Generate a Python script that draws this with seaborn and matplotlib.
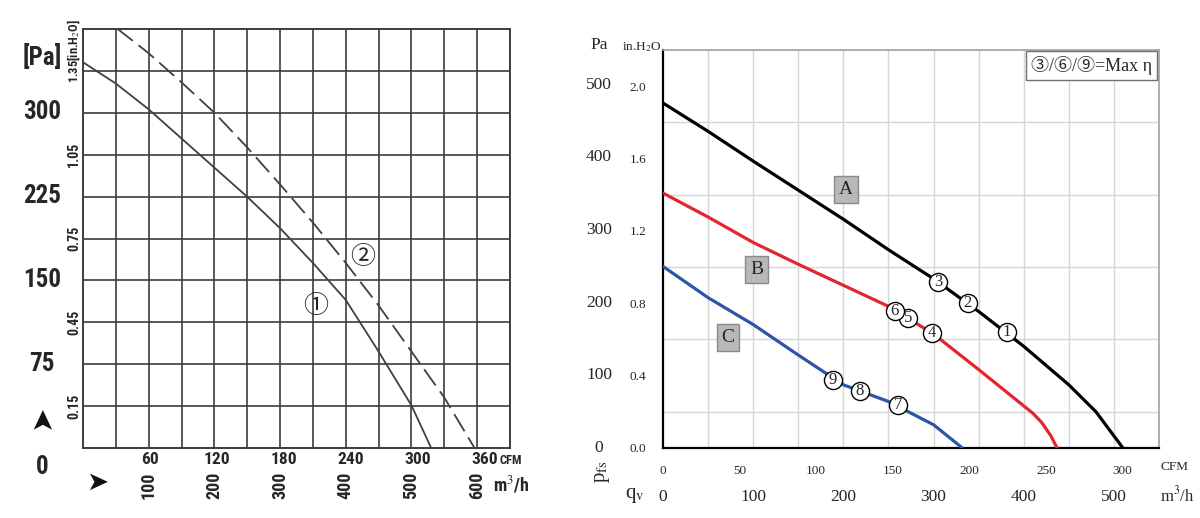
import numpy as np
import pandas as pd
import matplotlib
matplotlib.use('Agg')
import matplotlib.pyplot as plt
import matplotlib.transforms as mtrans
import seaborn as sns

PA_PER_INH2O = 249.09
CFM_PER_M3H = 0.5886

# ---- left chart: flow in m3/h, pressure in Pa ----
left_q1 = [0, 50, 100, 150, 200, 250, 300, 350, 400, 450, 500, 530]
left_p1 = [344, 325, 302, 276, 250, 224, 196, 165, 132, 86, 38, 0]
left_q2 = [52, 100, 150, 200, 250, 300, 350, 400, 450, 500, 550, 596]
left_p2 = [374, 352, 326, 299, 268, 235, 201, 165, 127, 86, 45, 0]
left_pa_ticks = [75, 150, 225, 300]
left_inh2o_ticks = [0.15, 0.45, 0.75, 1.05]
left_cfm_ticks = [60, 120, 180, 240, 300, 360]
left_m3h_ticks = [100, 200, 300, 400, 500, 600]
left_curve_tags = ['①', '②']
left_tag_q = [354, 425]
left_tag_p = [126, 170]

# ---- right chart: flow in m3/h, pressure in Pa ----
curve_a_q = [0, 50, 100, 150, 200, 250, 300, 350, 400, 450, 480, 510]
curve_a_p = [475, 436, 395, 355, 315, 273, 233, 188, 140, 87, 50, 0]
curve_b_q = [0, 50, 100, 150, 200, 250, 300, 350, 400, 410, 420, 430, 437]
curve_b_p = [351, 318, 283, 253, 224, 195, 157, 108, 58, 48, 35, 17, 0]
curve_c_q = [0, 50, 100, 150, 200, 250, 300, 332]
curve_c_p = [250, 207, 170, 128, 87, 64, 32, 0]
point_labels = ['1', '2', '3', '4', '5', '6', '7', '8', '9']
point_q = [381, 338, 305, 298, 272, 257, 260.6, 218, 188.5]
point_p = [160, 200, 229, 159, 179, 188, 59, 79, 94]
curve_names = ['A', 'B', 'C']
name_q = [203, 104, 72]
name_p = [356, 246, 152]
right_inh2o_ticks = [0.0, 0.4, 0.8, 1.2, 1.6, 2.0]
right_pa_ticks = [0, 100, 200, 300, 400, 500]
right_cfm_ticks = [0, 50, 100, 150, 200, 250, 300]
right_m3h_ticks = [0, 100, 200, 300, 400, 500]

sns.set_style('white')
plt.rcParams['font.family'] = ['DejaVu Sans', 'Noto Sans CJK JP']
plt.rcParams['mathtext.fontset'] = 'stix'

NARROW = ['Roboto Condensed', 'Roboto', 'DejaVu Sans']
SERIF = ['Liberation Serif', 'DejaVu Serif', 'Noto Sans CJK JP']
GRID_DARK = '#3c3c3c'

fig = plt.figure(figsize=(12, 5.18), dpi=100)
ax1 = fig.add_axes([83 / 1200, 70 / 518, 427 / 1200, 419 / 518])
ax2 = fig.add_axes([663 / 1200, 70 / 518, 496 / 1200, 398 / 518])

# ================= left panel =================
df1 = pd.DataFrame({'q': left_q1, 'p': left_p1})
df2 = pd.DataFrame({'q': left_q2, 'p': left_p2})
sns.lineplot(data=df1, x='q', y='p', ax=ax1, color='#404040', lw=1.3, sort=False)
sns.lineplot(data=df2, x='q', y='p', ax=ax1, color='#404040', lw=1.3, sort=False,
             dashes=False, linestyle=(0, (11, 4)))
ax1.set_xlim(0, 650)
ax1.set_ylim(0, 1.5 * PA_PER_INH2O)
ax1.set_xlabel('')
ax1.set_ylabel('')
ax1.set_xticks([c / CFM_PER_M3H for c in left_cfm_ticks])
ax1.set_xticklabels([str(c) for c in left_cfm_ticks], family=NARROW,
                    fontweight='bold', fontsize=12.5)
ax1.set_xticks(np.arange(50, 650, 50), minor=True)
ax1.set_yticks([])
ax1.set_yticks(np.arange(1, 10) * 0.15 * PA_PER_INH2O, minor=True)
ax1.tick_params(axis='x', which='major', direction='in', length=5, width=1,
                color=GRID_DARK, pad=3)
ax1.tick_params(which='minor', length=0)
ax1.grid(which='minor', color=GRID_DARK, lw=1.2)
for s in ax1.spines.values():
    s.set_color(GRID_DARK)
    s.set_linewidth(1.4)

trans_l = mtrans.blended_transform_factory(ax1.transAxes, ax1.transData)
for v in left_pa_ticks:
    ax1.text(-0.096, v, str(v), transform=trans_l, ha='center', va='center',
             family=NARROW, fontweight='bold', fontsize=18)
ax1.text(-0.096, -0.045, '0', transform=ax1.transAxes, ha='center', va='center',
         family=NARROW, fontweight='bold', fontsize=18)
ax1.text(-0.096, 0.933, '[Pa]', transform=ax1.transAxes, ha='center', va='center',
         family=NARROW, fontweight='bold', fontsize=18)
for v in left_inh2o_ticks:
    ax1.text(-0.021, v * PA_PER_INH2O, f'{v:.2f}', transform=trans_l, rotation=90,
             rotation_mode='anchor', ha='center', va='center',
             family=NARROW, fontweight='bold', fontsize=10)
ax1.annotate('1.35[in.H$_2$O]', xy=(-0.021, 1.35 * PA_PER_INH2O),
             xycoords=trans_l, xytext=(0, -9), textcoords='offset points',
             rotation=90, rotation_mode='anchor', ha='left', va='center',
             family=NARROW, fontweight='bold', fontsize=9)
ax1.text(-0.096, 0.074, '➤', transform=ax1.transAxes, rotation=90,
         ha='center', va='center', fontsize=21, color='#111111')
ax1.text(0.033, -0.084, '➤', transform=ax1.transAxes, ha='center', va='center',
         fontsize=19, color='#111111')
trans_lx = mtrans.blended_transform_factory(ax1.transData, ax1.transAxes)
for v in left_m3h_ticks:
    ax1.text(v, -0.088, str(v), transform=trans_lx, rotation=90, ha='center',
             va='center', family=NARROW, fontweight='bold', fontsize=13)
ax1.text(0.96, -0.088, 'm$^3$/h', transform=ax1.transAxes, ha='left',
         va='center', family=NARROW, fontweight='bold', fontsize=13)
ax1.text(0.975, -0.031, 'CFM', transform=ax1.transAxes, ha='left', va='center',
         family=NARROW, fontweight='bold', fontsize=9)
for tag, q, p in zip(left_curve_tags, left_tag_q, left_tag_p):
    ax1.text(q, p, tag, ha='center', va='center', fontsize=18,
             family=['DejaVu Serif', 'Noto Sans CJK JP'], color='#222222')

# ================= right panel =================
for q, p, col in [(curve_a_q, curve_a_p, 'black'),
                  (curve_b_q, curve_b_p, '#e3262c'),
                  (curve_c_q, curve_c_p, '#2c55a6')]:
    sns.lineplot(x=q, y=p, ax=ax2, color=col, lw=2.3, sort=False, zorder=3)

pts = pd.DataFrame({'q': point_q, 'p': point_p, 'lab': point_labels})
sns.scatterplot(data=pts, x='q', y='p', ax=ax2, s=170, color='white',
                edgecolor='black', linewidth=1.0, zorder=4)
for _, r in pts.iterrows():
    ax2.text(r['q'], r['p'], r['lab'], ha='center', va='center', fontsize=12,
             family=SERIF, zorder=5)
for name, q, p in zip(curve_names, name_q, name_p):
    ax2.text(q, p, name, ha='center', va='center', fontsize=14, family=SERIF,
             zorder=5, bbox=dict(boxstyle='square,pad=0.25', fc='#b8b8b8',
                                 ec='#8a8a8a', lw=1))

ax2.set_xlim(0, 550)
ax2.set_ylim(0, 2.2 * PA_PER_INH2O)
ax2.set_xlabel('')
ax2.set_ylabel('')
ax2.set_xticks([c / CFM_PER_M3H for c in right_cfm_ticks])
ax2.set_xticklabels([str(c) for c in right_cfm_ticks], family=SERIF, fontsize=9.5)
ax2.set_xticks(np.arange(50, 550, 50), minor=True)
ax2.set_yticks([v * PA_PER_INH2O for v in right_inh2o_ticks])
ax2.set_yticklabels([f'{v:.1f}' for v in right_inh2o_ticks], family=SERIF,
                    fontsize=9.5)
ax2.set_yticks(np.arange(1, 11) * 0.2 * PA_PER_INH2O, minor=True)
ax2.tick_params(which='major', direction='out', length=7, width=1.3,
                color='black', pad=5)
ax2.tick_params(which='minor', length=0)
ax2.grid(False)
ax2.grid(which='minor', color='#d6d6d6', lw=1)
for side in ['left', 'bottom']:
    ax2.spines[side].set_color('black')
    ax2.spines[side].set_linewidth(1.6)
for side in ['top', 'right']:
    ax2.spines[side].set_color('#a0a0a0')
    ax2.spines[side].set_linewidth(1.2)

trans_r = mtrans.blended_transform_factory(ax2.transAxes, ax2.transData)
for v in right_pa_ticks:
    ax2.text(-0.129, v, str(v), transform=trans_r, ha='center', va='center',
             family=SERIF, fontsize=12.5)
trans_rx = mtrans.blended_transform_factory(ax2.transData, ax2.transAxes)
for v in right_m3h_ticks:
    ax2.text(v, -0.123, str(v), transform=trans_rx, ha='center', va='center',
             family=SERIF, fontsize=12.5)
ax2.text(-0.129, 1.013, 'Pa', transform=ax2.transAxes, ha='center',
         va='center', family=SERIF, fontsize=12.5)
ax2.text(-0.042, 1.008, 'in.H$_2$O', transform=ax2.transAxes, ha='center',
         va='center', family=SERIF, fontsize=9.5)
ax2.text(1.003, -0.048, 'CFM', transform=ax2.transAxes, ha='left', va='center',
         family=SERIF, fontsize=9.5)
ax2.text(1.003, -0.118, 'm$^3$/h', transform=ax2.transAxes, ha='left',
         va='center', family=SERIF, fontsize=12)
ax2.text(-0.121, -0.06, 'p$_{\\rm fs}$', transform=ax2.transAxes, rotation=90,
         ha='center', va='center', family=SERIF, fontsize=15)
ax2.text(-0.056, -0.12, 'q$_{\\rm v}$', transform=ax2.transAxes, ha='center',
         va='center', family=SERIF, fontsize=15)
ax2.text(0.986, 0.985, '③/⑥/⑨=Max η', transform=ax2.transAxes, ha='right',
         va='top', family=SERIF, fontsize=13, zorder=6,
         bbox=dict(boxstyle='square,pad=0.3', fc='white', ec='#707070', lw=1))

fig.savefig('out.png', dpi=100)
